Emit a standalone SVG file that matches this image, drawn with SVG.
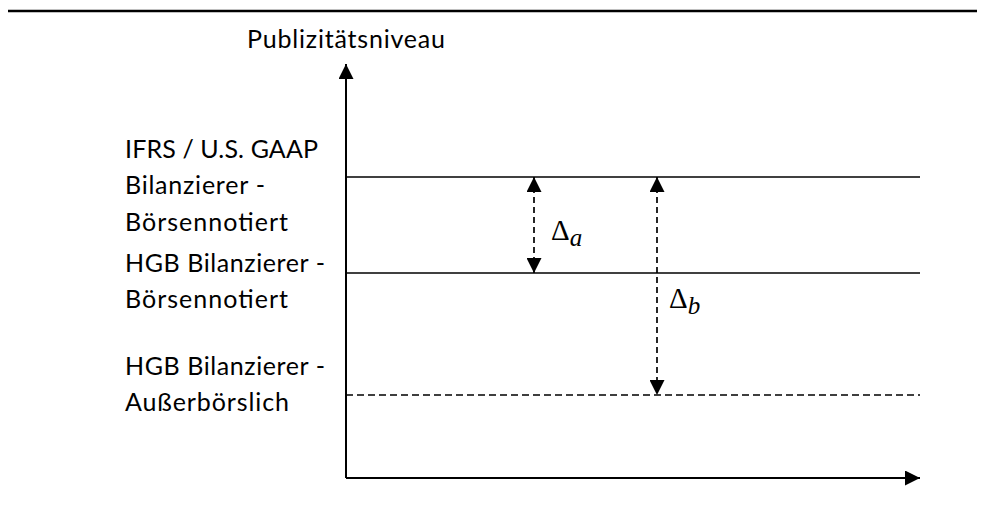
<svg xmlns="http://www.w3.org/2000/svg" width="985" height="510" viewBox="0 0 985 510">
  <style>
    .lbl { font-family: Lato, "Open Sans", "Liberation Sans", sans-serif; font-size: 25px; fill: #000; }
    .math { font-family: "Liberation Serif", "DejaVu Serif", serif; fill: #000; }
    .solid { stroke: #000; stroke-width: 1.7; fill: none; }
    .axis { stroke: #000; stroke-width: 2; fill: none; }
    .dash-v { stroke: #000; stroke-width: 1.7; stroke-dasharray: 6 4; fill: none; }
    .dash-h { stroke: #000; stroke-width: 1.5; stroke-dasharray: 7 4; fill: none; }
  </style>
  <defs>
    <marker id="head" viewBox="0 0 10 10" refX="10" refY="5" markerWidth="15" markerHeight="15" markerUnits="userSpaceOnUse" orient="auto-start-reverse">
      <path d="M0,0 L10,5 L0,10 Z" fill="#000"/>
    </marker>
  </defs>
  <rect width="985" height="510" fill="#fff"/>

  <!-- top rule -->
  <line x1="8" y1="11" x2="977" y2="11" stroke="#000" stroke-width="2.5"/>

  <g id="connectors">
    <!-- axes -->
    <line class="axis" x1="346" y1="478" x2="346" y2="64" marker-end="url(#head)"/>
    <line class="axis" x1="346" y1="478" x2="920" y2="478" marker-end="url(#head)"/>
    <!-- levels -->
    <line class="solid" x1="346" y1="177" x2="920" y2="177"/>
    <line class="solid" x1="346" y1="273" x2="920" y2="273"/>
    <line class="dash-h" x1="346" y1="395" x2="920" y2="395"/>
    <!-- differences -->
    <line class="dash-v" x1="534" y1="177" x2="534" y2="273" marker-start="url(#head)" marker-end="url(#head)"/>
    <line class="dash-v" x1="657" y1="177" x2="657" y2="395" marker-start="url(#head)" marker-end="url(#head)"/>
  </g>

  <g id="axis-label">
    <text class="lbl" x="247" y="48" textLength="198" lengthAdjust="spacing">Publizitätsniveau</text>
  </g>

  <g id="level-ifrs">
    <text class="lbl" x="125" y="158" textLength="193" lengthAdjust="spacing">IFRS / U.S. GAAP</text>
    <text class="lbl" x="125" y="194" textLength="140" lengthAdjust="spacing">Bilanzierer -</text>
    <text class="lbl" x="125" y="231" textLength="163" lengthAdjust="spacing">Börsennotiert</text>
  </g>

  <g id="level-hgb-listed">
    <text class="lbl" x="125" y="272" textLength="200" lengthAdjust="spacing">HGB Bilanzierer -</text>
    <text class="lbl" x="125" y="308" textLength="163" lengthAdjust="spacing">Börsennotiert</text>
  </g>

  <g id="level-hgb-unlisted">
    <text class="lbl" x="125" y="375" textLength="200" lengthAdjust="spacing">HGB Bilanzierer -</text>
    <text class="lbl" x="125" y="411" textLength="164" lengthAdjust="spacing">Außerbörslich</text>
  </g>

  <g id="delta-a">
    <text class="math" x="551" y="240" font-size="29">Δ<tspan font-size="25" font-style="italic" dy="6">a</tspan></text>
  </g>

  <g id="delta-b">
    <text class="math" x="669" y="308" font-size="29">Δ<tspan font-size="25" font-style="italic" dy="6">b</tspan></text>
  </g>
</svg>
